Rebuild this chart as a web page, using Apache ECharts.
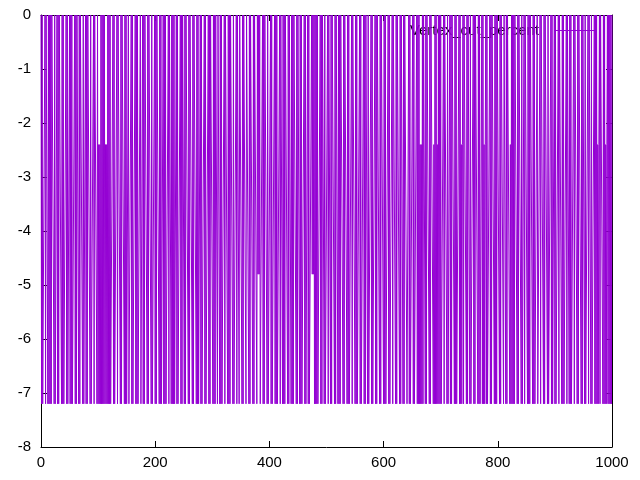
<!DOCTYPE html>
<html>
<head>
<meta charset="utf-8">
<script src="https://cdn.jsdelivr.net/npm/echarts@6.0.0/dist/echarts.min.js"></script>
<style>html,body{margin:0;padding:0;background:#fff}#c{width:640px;height:480px}</style>
</head>
<body>
<div id="c"></div>
<script>
// Level values
const H = 0, M = -2.4, N = -4.8, L = -7.2;
const seriesName = "Vertex_cut_percent";
const xTicks = [0, 200, 400, 600, 800, 1000];
const yTicks = [-8, -7, -6, -5, -4, -3, -2, -1, 0];

// Series values, in blocks of 100 samples
const seg0 = [H,L,H, L,L,L,L, H,L, H,H,H, L,H,L,H,L,H,L, H,H,H,H, L,H, L,L,L, H,L,H,L, H,H,H,H, L,H,L,H, L,L,L,L, H,L,H, L,L,L, H,L,H,L,H, L,L,L,L, H,L,H,L, H,H,H, L,H,L, H,H,H,H, L,H, L,L,L, H,L,H,L, H,H,H,H, L,H, L,L,L,L, H,L, H,H,H,H, L,H];
const seg1 = [L,M,L,M,L, H,L,H,L,H,L,H, L,M,L,M,L, H,L,H,L,H, L,L,L,L, H,L,H, L,L,L,L, H,L, H,H,H,H, L,H,L, H,H,H,H, L,H,L,H, L,L,L, H, L,L,L,L, H,L,H, L,L,L,L, H,L,H,L,H, L,L,L,L, H, L,L,L, H,L,H,L, H,H,H,H, L,H,L, H,H,H,H, L,H, L,L,L,L, H];
const seg2 = [L,H,L, H,H,H,H, L,H,L,H, L,L,L, H,L,H,L,H, L,L,L,L, H,L, H,H,H, L,H,L,H,L,H, L,L,L, H,L,H, L,L,L,L, H,L,H,L, H,H,H, L,H,L, H,H,H,H, L,H,L, H,H,H,H, L,H,L, H,H,H,H, L,H,L,H, L,L,L, H,L,H, L,L,L,L, H,L,H, L,L,L,L, H,L,H,L, H,H,H];
const seg3 = [H, L,H,L,H,L, H,H,H, L, H,H,H, L,H,L,H, L,L,L,L, H,L, H,H,H,H, L,H,L,H,L, H,H,H,H, L,H, L,L,L,L, H,L, H,H,H, L, H,H,H,H, L,H,L, H,H,H,H, L, H,H,H,H, L,H,L, H,H,H,H, L,H,L, H,H,H,H, L,H, N,H,N,H, L,L,L,L, H,L,H,L, H,H,H,H, L,H, L,L];
const seg4 = [L,L, H,L,H, L,L,L,L, H,L,H,L,H, L,L,L,L, H,L, H,H,H, L,H,L,H,L, H,H,H,H, L,H,L, H,H,H, L,H,L,H,L, H,H,H,H, L,H,L, H,H,H, L,H,L,H, L,L,L,L, H,L,H, L,L,L, H,L,H, L,L,L,L, H,N,H,N,H, L,H,L,H,L,H, L,L,L,L, H,L,H,L, H,H,H, L,H, L,L];
const seg5 = [L,L, H,L, H,H,H, L,H,L, H,H,H,H, L,H,L, H,H,H, L,H,L,H,L, H,H,H,H, L,H,L, H,H,H,H, L,H,L,H, L,L,L,L, H,L, H,H,H,H, L,H,L,H, L,L,L,L, H,L,H, L,L,L,L, H,L,H,L, H,H,H, L,H, L,L,L,L, H,L,H, L,L,L,L, H,L,H,L, H,H,H,H, L,H,L, H,H,H,H];
const seg6 = [L,H,L,H, L,L,L,L, H,L,H, L,L,L,L, H,L, H,H,H,H, L,H,L, H,H,H,H, L,H,L, H,H,H, L,H,L, H,H,H,H, L,L,L, H,L,H, L,L,L,L, H,L,H, L,L,L,L, H,L,H,L,H, L,M,L,M,L, H,L, H,H,H, L,H,L, H,H,H,H, L,H,L, H,H,H,H, L,M,L, H,L,H, L,M,L, H,L,H,L];
const seg7 = [H, L,L,L,L, H,L, H,H,H,H, L,H, L,L,L, H,L,H,L, H,H,H,H, L,H,L,H, L,L,L,L, H,L,H, L,M,L,M, H,L, H,H,H,H, L,H,L, H,H,H, L,H, L,L,L,L, H,L,H,L, H,H,H,H, L,H,L,H, L,L,L, H,L,H,L,M,L,M, H,L,H, L,L,L,L, H,L,H,L, H,H,H,H, L,H,L,H,L,H];
const seg8 = [H,H,H, L,H,L, H,H,H,H, L, H,H,H, L,H,L, H,H,H,H, L,M,L, H,L,H,L,H,L, H,H,H,H, L,H,L, H,H,H,H, L,H, L,L,L, H,L, H,H,H,H, L,H,L,H,L, H,H,H,H, L,H,L,H, L,L,L,L, H, L,L,L,L, H,L, H,H,H,H, L,H,L, H,H,H,H, L,H, L,L,L,L, H,L,H, L,L,L, H];
const seg9 = [L,H, L,L,L,L, H,L, H,H,H,H, L,H,L,H, L,L,L,L, H,L, H,H,H, L,H,L,H, L,L,L,L, H,L, H,H,H,H, L,H,L, H,H,H,H, L,H,L, H,H,H, L,H, L,L,L,L, H,L, H,H,H, L,H, L,L,L,L, H,L,H,L, H,L,M,L,M, H,L, H,H,H,H, L,H,L, H,L,M,L,M, H,L,H,L,H,L,H,L,H];

const yValues = [].concat(seg0, seg1, seg2, seg3, seg4, seg5, seg6, seg7, seg8, seg9);
const points = yValues.map((v, i) => [i, v]);

const FONT = "Liberation Sans";
const tickStyle = { show: true, inside: true, length: 6, lineStyle: { color: '#000', width: 1 } };
const lineStyleAxis = { show: true, onZero: false, lineStyle: { color: '#000', width: 1 } };
const plain = v => String(v);

const chart = echarts.init(document.getElementById('c'), null, { renderer: 'canvas' });
chart.setOption({
  animation: false,
  backgroundColor: '#fff',
  grid: { left: 41, right: 28, top: 15, bottom: 33, containLabel: false },
  legend: {
    z: 1,
    right: 38,
    top: 18,
    align: 'right',
    icon: 'rect',
    itemWidth: 43,
    itemHeight: 1,
    data: [seriesName],
    textStyle: { fontFamily: FONT, fontSize: 15, color: '#000', padding: [0, 10, 0, 0] }
  },
  xAxis: [
    {
      type: 'value', position: 'bottom', min: xTicks[0], max: xTicks[xTicks.length - 1], interval: 200,
      axisLine: lineStyleAxis, axisTick: tickStyle, splitLine: { show: false },
      axisLabel: { color: '#000', fontFamily: FONT, fontSize: 15, margin: 8, formatter: plain }
    },
    {
      type: 'value', position: 'top', min: xTicks[0], max: xTicks[xTicks.length - 1], interval: 200,
      axisLine: lineStyleAxis, axisTick: tickStyle, splitLine: { show: false },
      axisLabel: { show: false }
    }
  ],
  yAxis: [
    {
      type: 'value', position: 'left', min: yTicks[0], max: yTicks[yTicks.length - 1], interval: 1,
      axisLine: lineStyleAxis, axisTick: tickStyle, splitLine: { show: false },
      axisLabel: { color: '#000', fontFamily: FONT, fontSize: 15, margin: 10, formatter: plain }
    },
    {
      type: 'value', position: 'right', min: yTicks[0], max: yTicks[yTicks.length - 1], interval: 1,
      axisLine: lineStyleAxis, axisTick: tickStyle, splitLine: { show: false },
      axisLabel: { show: false }
    }
  ],
  series: [{
    name: seriesName,
    type: 'line',
    data: points,
    xAxisIndex: 0,
    yAxisIndex: 0,
    showSymbol: false,
    symbol: 'none',
    sampling: null,
    z: 2,
    lineStyle: { color: '#9400d3', width: 1 },
    itemStyle: { color: '#9400d3' }
  }]
});
</script>
</body>
</html>
